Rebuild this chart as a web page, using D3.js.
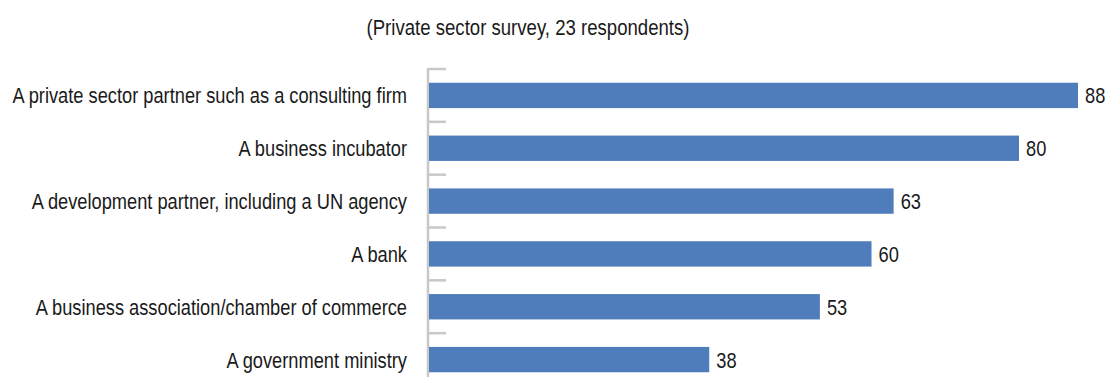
<!DOCTYPE html>
<html><head><meta charset="utf-8">
<script src="https://cdn.jsdelivr.net/npm/d3@7"></script>
<style>
body{margin:0;background:#fff;}
text{font-family:"Liberation Sans","Arial",sans-serif;fill:#1a1a1a;}
</style></head>
<body><svg id="c" width="1109" height="377"></svg>
<script>
const categories = [
  "A private sector partner such as a consulting firm",
  "A business incubator",
  "A development partner, including a UN agency",
  "A bank",
  "A business association/chamber of commerce",
  "A government ministry"
];
const values = [88, 80, 63, 60, 53, 38];
const title = "(Private sector survey, 23 respondents)";

const FS = 22, SX = 0.83;
const svg = d3.select("#c");
const x0 = 429;
const x = d3.scaleLinear().domain([0, 88]).range([x0, 1078]);
const y = d3.scaleBand().domain(categories).range([69, 386]).paddingInner(0.52).paddingOuter(0.26);

svg.append("text").attr("transform", `translate(528,35) scale(0.845,1)`)
  .attr("text-anchor", "middle").attr("font-size", FS).text(title);

const step = y.step();
const tickYs = d3.range(categories.length + 1).map(i => 69 + i * step);
svg.append("line").attr("x1", 428).attr("x2", 428).attr("y1", 68).attr("y2", 386)
  .attr("stroke", "#c8c8c8").attr("stroke-width", 2.5);
svg.selectAll(".tk").data(tickYs).join("line")
  .attr("x1", 428).attr("x2", 446).attr("y1", d => d).attr("y2", d => d)
  .attr("stroke", "#c8c8c8").attr("stroke-width", 2.5);

svg.selectAll(".bar").data(values).join("rect")
  .attr("x", x0).attr("y", (d, i) => y(categories[i]))
  .attr("width", d => x(d) - x0).attr("height", y.bandwidth())
  .attr("fill", "#4f7dbb");

svg.selectAll(".cat").data(categories).join("text")
  .attr("transform", d => `translate(407,${y(d) + y.bandwidth() / 2}) scale(${SX},1)`)
  .attr("dy", "0.36em").attr("text-anchor", "end").attr("font-size", FS).text(d => d);

svg.selectAll(".val").data(values).join("text")
  .attr("transform", (d, i) => `translate(${x(d) + 7},${y(categories[i]) + y.bandwidth() / 2}) scale(${SX},1)`)
  .attr("dy", "0.36em").attr("font-size", FS).text(d => d);
</script></body></html>
